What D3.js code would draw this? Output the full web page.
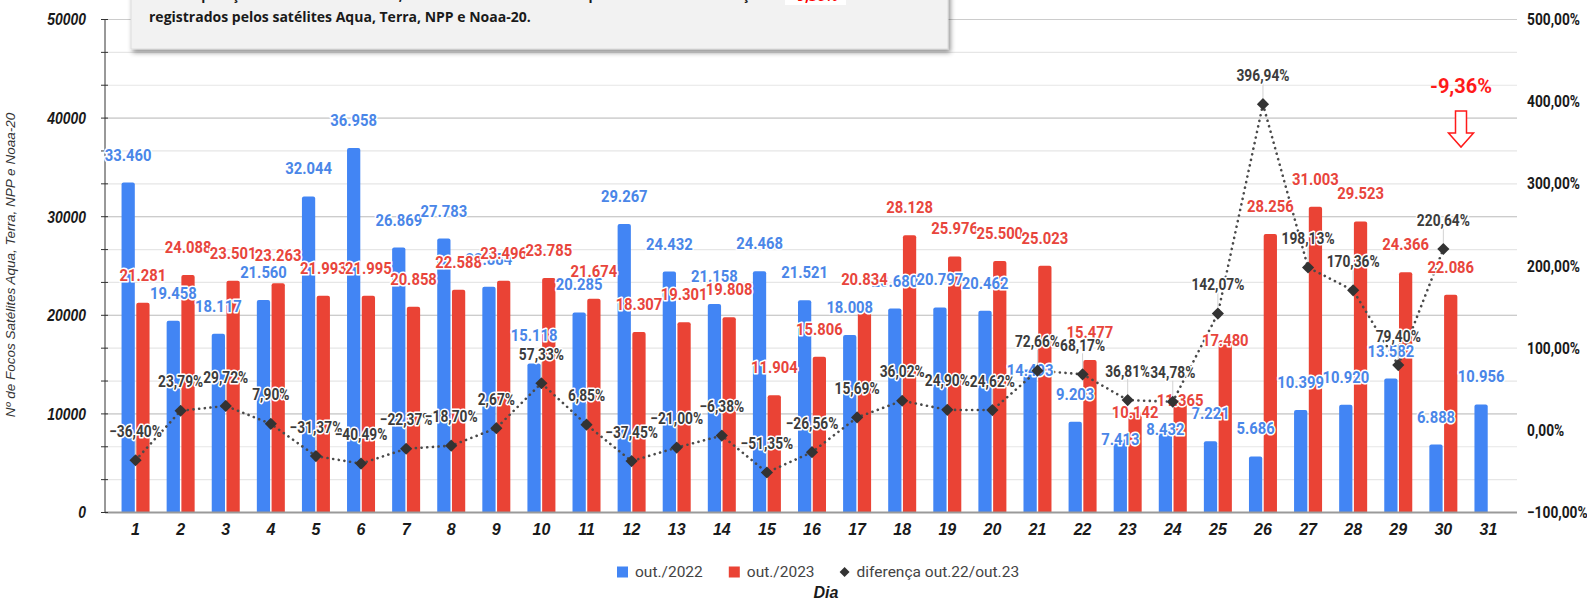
<!DOCTYPE html>
<html><head><meta charset="utf-8">
<script src="https://cdn.jsdelivr.net/npm/d3@7"></script>
<style>
body{margin:0;background:#fff;}
svg{display:block;}
</style></head><body>
<svg id="c" width="1587" height="600"></svg>
<script>
// ---------------- DATA ----------------
const days = ["1","2","3","4","5","6","7","8","9","10","11","12","13","14","15","16","17","18","19","20","21","22","23","24","25","26","27","28","29","30","31"];
const out2022 = [33460,19458,18117,21560,32044,36958,26869,27783,22884,15118,20285,29267,24432,21158,24468,21521,18008,20680,20797,20462,14493,9203,7413,8432,7221,5686,10399,10920,13582,6888,10956];
const out2023 = [21281,24088,23501,23263,21993,21995,20858,22588,23496,23785,21674,18307,19301,19808,11904,15806,20834,28128,25976,25500,25023,15477,10142,11365,17480,28256,31003,29523,24366,22086,null];
const diffPct = [-36.40,23.79,29.72,7.90,-31.37,-40.49,-22.37,-18.70,2.67,57.33,6.85,-37.45,-21.00,-6.38,-51.35,-26.56,15.69,36.02,24.90,24.62,72.66,68.17,36.81,34.78,142.07,396.94,198.13,170.36,79.40,220.64,null];
const leftTicks = [0,10000,20000,30000,40000,50000];
const rightTicks = [-100,0,100,200,300,400,500];
const seriesNames = ["out./2022","out./2023","diferença out.22/out.23"];
const monthDiff = "-9,36%";
const noteLine1 = ["Em comparação com outubro de 2022, o mês de outubro de 2023 apresentou uma diferença de", "-9,36%", "dos focos"];
const noteLine2 = "registrados pelos satélites Aqua, Terra, NPP e Noaa-20.";
const yTitle = "Nº de Focos Satélites Aqua, Terra, NPP e Noaa-20";
const xTitle = "Dia";

// ---------------- SETUP ----------------
const BLUE = "#4285f4", RED = "#ea4335", BLUE_T = "#4a86e8", RED_T = "#e8453c";
const X0 = 105, X1 = 1517, YT = 19.5, YB = 512.5;
const svg = d3.select("#c");
const loc = d3.formatLocale({decimal: ",", thousands: ".", grouping: [3], currency: ["", ""]});
const fInt = loc.format(",d");
const fPct = v => loc.format(".2f")(v) + "%";

const x = d3.scaleBand().domain(days).range([113, 1511]);
const xs = d3.scaleBand().domain(["a", "b"]).range([-14, 14]).paddingInner(0.1);
const yL = d3.scaleLinear().domain([0, 50000]).range([YB, YT]);
const yR = d3.scaleLinear().domain([-100, 500]).range([YB, YT]);
const cx = d => x(d) + x.bandwidth() / 2;

const rows = days.map((d, i) => ({day: d, a: out2022[i], b: out2023[i], p: diffPct[i]}));

const defs = svg.append("defs");
defs.append("filter").attr("id", "sh").attr("x", "-5%").attr("y", "-30%").attr("width", "115%").attr("height", "180%")
  .append("feDropShadow").attr("dx", 2).attr("dy", 3).attr("stdDeviation", 2.5)
  .attr("flood-color", "#000").attr("flood-opacity", 0.45);

// ---------------- GRID ----------------
const grid = svg.append("g");
const minorVals = d3.range(16).map(i => i * 50000 / 15);
grid.selectAll("line.mn").data(minorVals).join("line")
  .attr("x1", X0).attr("x2", X1).attr("y1", d => yL(d)).attr("y2", d => yL(d))
  .attr("stroke", "#e6e6e6").attr("stroke-width", 1.2);
grid.selectAll("line.mj").data(leftTicks.slice(1)).join("line")
  .attr("x1", X0).attr("x2", X1).attr("y1", d => yL(d)).attr("y2", d => yL(d))
  .attr("stroke", "#cccccc").attr("stroke-width", 1.2);

// ---------------- BARS ----------------
function topRound(x0, y0, w, yb, r) {
  r = Math.min(r, (yb - y0) / 2, w / 2);
  return `M${x0},${yb}V${y0 + r}Q${x0},${y0} ${x0 + r},${y0}H${x0 + w - r}Q${x0 + w},${y0} ${x0 + w},${y0 + r}V${yb}Z`;
}
const gb = svg.append("g");
gb.selectAll("path.a").data(rows).join("path")
  .attr("d", r => topRound(cx(r.day) + xs("a"), yL(r.a), xs.bandwidth(), YB, 2))
  .attr("fill", BLUE);
gb.selectAll("path.b").data(rows.filter(r => r.b != null)).join("path")
  .attr("d", r => topRound(cx(r.day) + xs("b"), yL(r.b), xs.bandwidth(), YB, 2))
  .attr("fill", RED);

// baseline & left axis
svg.append("line").attr("x1", X0).attr("x2", X1).attr("y1", YB).attr("y2", YB).attr("stroke", "#9a9a9a").attr("stroke-width", 2);
svg.append("line").attr("x1", X0).attr("x2", X0).attr("y1", YT).attr("y2", YB).attr("stroke", "#333").attr("stroke-width", 1);
svg.selectAll("line.tk").data(minorVals).join("line")
  .attr("x1", X0 - 4).attr("x2", X0 + 3).attr("y1", d => yL(d)).attr("y2", d => yL(d))
  .attr("stroke", "#333").attr("stroke-width", 1);

// ---------------- AXIS LABELS ----------------
function ctext(parent, x, y, str, o) {
  const g = parent.append("g").attr("transform", `translate(${x},${y}) scale(${o.sx || 1},1)`);
  const t = g.append("text").text(str)
    .attr("text-anchor", o.anchor || "middle").attr("dy", "0.35em")
    .attr("font-family", o.family || "Roboto").attr("font-size", o.size)
    .attr("font-weight", o.weight || "normal").attr("font-style", o.style || "normal")
    .attr("fill", o.fill || "#222");
  if (o.halo) t.attr("stroke", "#fff").attr("stroke-width", 3.2).attr("stroke-linejoin", "round").attr("paint-order", "stroke");
  return {g, t};
}
const ax = svg.append("g");
leftTicks.forEach(v => ctext(ax, 86, yL(v), String(v), {size: 17, weight: "bold", style: "italic", family: "Liberation Sans", anchor: "end", sx: 0.82, fill: "#1a1a1a"}));
rightTicks.forEach(v => ctext(ax, 1527, yR(v), fPct(v), {size: 16, weight: "bold", family: "Roboto", anchor: "start", sx: 0.86, fill: "#1a1a1a"}));
days.forEach(d => ctext(ax, cx(d), 529, d, {size: 16, weight: "bold", style: "italic", family: "Liberation Sans", fill: "#1a1a1a"}));

svg.append("text").text(yTitle)
  .attr("transform", "translate(15,265) rotate(-90)").attr("text-anchor", "middle")
  .attr("font-family", "Liberation Sans").attr("font-style", "italic").attr("font-size", 13.5).attr("fill", "#333");
svg.append("text").text(xTitle).attr("x", 826).attr("y", 598).attr("text-anchor", "middle")
  .attr("font-family", "Liberation Sans").attr("font-style", "italic").attr("font-weight", "bold").attr("font-size", 16).attr("fill", "#1a1a1a");

// ---------------- LINE ----------------
const pts = rows.filter(r => r.p != null);
const line = d3.line().x(r => cx(r.day)).y(r => yR(r.p));
svg.append("path").attr("d", line(pts)).attr("fill", "none")
  .attr("stroke", "#4a4a4a").attr("stroke-width", 2.6).attr("stroke-dasharray", "0.1 5.6").attr("stroke-linecap", "round");

// ---------------- LABELS (simple collision avoidance) ----------------
const pctBoxes = [];
const sameBoxes = {a: [], b: []};
const hitIn = (list, b) => list.some(o => b.x0 < o.x1 && b.x1 > o.x0 && b.y0 < o.y1 && b.y1 > o.y0);
pts.forEach(r => { const y = yR(r.p), X = cx(r.day); pctBoxes.push({x0: X - 6, x1: X + 6, y0: y - 6, y1: y + 6}); });

const lblLayer = svg.append("g");
const lblBlue = lblLayer.append("g"), lblRed = lblLayer.append("g"), lblPct = lblLayer.append("g");

pts.forEach(r => {
  const X = cx(r.day), y = yR(r.p), ly = y - 29;
  lblPct.append("line").attr("x1", X).attr("x2", X).attr("y1", ly + 8).attr("y2", y - 6).attr("stroke", "#d2d2d2").attr("stroke-width", 1);
  const {t} = ctext(lblPct, X, ly, fPct(r.p), {size: 16, weight: "bold", family: "Roboto", sx: 0.86, fill: "#3c3c3c", halo: true});
  const w = t.node().getComputedTextLength() * 0.86 * 0.85;
  pctBoxes.push({x0: X - w / 2, x1: X + w / 2, y0: ly - 6, y1: ly + 6});
});

function placeBar(layer, key, X, top, val, color) {
  const {g, t} = ctext(layer, X, top - 28, fInt(val), {size: 17, weight: "bold", family: "Roboto", sx: 0.87, fill: color, halo: true});
  const w = t.node().getComputedTextLength() * 0.87 * 0.82;
  const box = c => ({x0: X - w / 2, x1: X + w / 2, y0: top + c - 6, y1: top + c + 6});
  let c = -28;
  if (hitIn(pctBoxes, box(c))) c = 0;
  else if (hitIn(sameBoxes[key], box(c))) c = -56;
  sameBoxes[key].push(box(c));
  g.attr("transform", `translate(${X},${top + c}) scale(0.87,1)`);
}
rows.forEach(r => placeBar(lblBlue, "a", cx(r.day) + xs("a") + xs.bandwidth() / 2, yL(r.a), r.a, BLUE_T));
rows.filter(r => r.b != null).forEach(r => placeBar(lblRed, "b", cx(r.day) + xs("b") + xs.bandwidth() / 2, yL(r.b), r.b, RED_T));
lblPct.raise();

// diamonds
svg.append("g").selectAll("path").data(pts).join("path")
  .attr("d", d3.symbol(d3.symbolSquare, 74))
  .attr("transform", r => `translate(${cx(r.day)},${yR(r.p)}) rotate(45)`)
  .attr("fill", "#333");

// ---------------- ANNOTATION ----------------
ctext(svg, 1461, 86, monthDiff, {size: 20, weight: "bold", family: "Roboto", fill: "#ff1a1a"});
const ac = 1461;
svg.append("path")
  .attr("d", `M${ac - 5.5},111H${ac + 5.5}V133H${ac + 12.5}L${ac},147L${ac - 12.5},133H${ac - 5.5}Z`)
  .attr("fill", "#fff").attr("stroke", "#ff1a1a").attr("stroke-width", 1.5);

// ---------------- LEGEND ----------------
const lg = svg.append("g");
let lx = 617;
const ly = 572;
seriesNames.forEach((name, i) => {
  if (i < 2) {
    lg.append("rect").attr("x", lx).attr("y", ly - 5.5).attr("width", 11).attr("height", 11).attr("fill", i === 0 ? BLUE : RED);
    lx += 18;
  } else {
    lg.append("path").attr("d", d3.symbol(d3.symbolSquare, 50)).attr("transform", `translate(${lx + 4},${ly}) rotate(45)`).attr("fill", "#333");
    lx += 16;
  }
  const t = lg.append("text").text(name).attr("x", lx).attr("y", ly).attr("dy", "0.35em")
    .attr("font-family", "Roboto").attr("font-size", 15.5).attr("fill", "#444");
  lx += t.node().getComputedTextLength() + 26;
});

// ---------------- NOTE BOX ----------------
const nb = svg.append("g");
nb.append("rect").attr("x", 131).attr("y", -10).attr("width", 817).attr("height", 59)
  .attr("fill", "#f2f2f2").attr("stroke", "#d8d8d8").attr("stroke-width", 0.8).attr("filter", "url(#sh)");
nb.append("text").text(noteLine1[0]).attr("x", 149).attr("y", 0)
  .attr("font-family", "Open Sans").attr("font-weight", "bold").attr("font-size", 14).attr("fill", "#1a1a1a")
  .attr("textLength", 628).attr("lengthAdjust", "spacingAndGlyphs");
nb.append("rect").attr("x", 785).attr("y", -8).attr("width", 61).attr("height", 13).attr("fill", "#fff");
nb.append("text").text(noteLine1[1]).attr("x", 815).attr("y", 1).attr("text-anchor", "middle")
  .attr("font-family", "Open Sans").attr("font-weight", "bold").attr("font-size", 14).attr("fill", "#ff0000");
nb.append("text").text(noteLine1[2]).attr("x", 852).attr("y", 0)
  .attr("font-family", "Open Sans").attr("font-weight", "bold").attr("font-size", 14).attr("fill", "#1a1a1a");
nb.append("text").text(noteLine2).attr("x", 149).attr("y", 22)
  .attr("font-family", "Open Sans").attr("font-weight", "bold").attr("font-size", 14).attr("fill", "#1a1a1a");
</script>
</body></html>
